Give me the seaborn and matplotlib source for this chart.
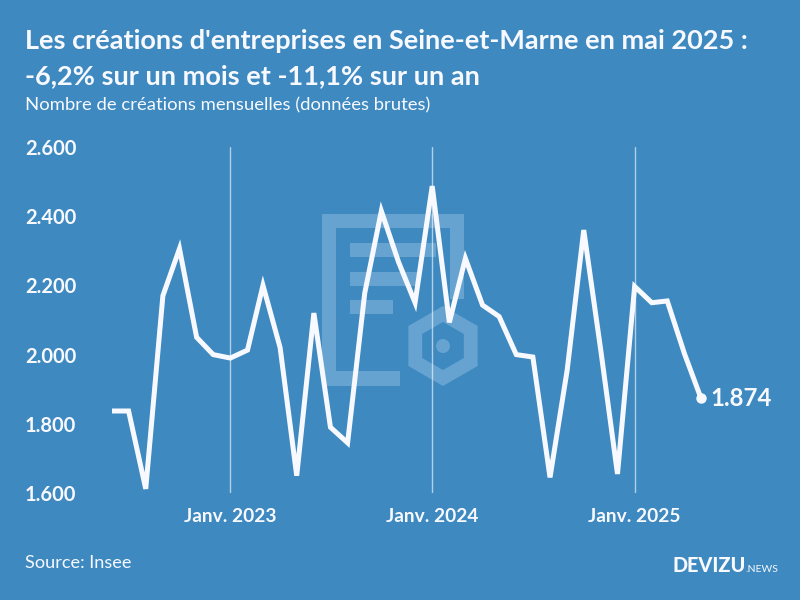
import matplotlib
matplotlib.use('Agg')
import matplotlib.pyplot as plt
import matplotlib.patches as mpatches
import pandas as pd
import seaborn as sns

# monthly values
months = pd.date_range('2022-06-01', '2025-05-01', freq='MS')
creations = [1837, 1837, 1612, 2170, 2306, 2050, 2000, 1990, 2013, 2200, 2020, 1650,
             2120, 1790, 1745, 2178, 2415, 2268, 2150, 2487, 2093, 2278, 2143, 2110,
             2000, 1993, 1645, 1955, 2360, 2010, 1655, 2197, 2150, 2155, 2003, 1874]
y_ticks = [1600, 1800, 2000, 2200, 2400, 2600]
y_labels = ['1.600', '1.800', '2.000', '2.200', '2.400', '2.600']
x_ticks = pd.to_datetime(['2023-01-01', '2024-01-01', '2025-01-01'])
x_labels = ['Janv. 2023', 'Janv. 2024', 'Janv. 2025']

BG = '#3d89c0'
WHITE = '#f8f9ff'
LOGO = '#66a3d0'

sns.set_theme(style='white', rc={'axes.facecolor': 'none', 'figure.facecolor': BG})
plt.rcParams['font.family'] = ['Lato', 'DejaVu Sans']

df = pd.DataFrame({'mois': months, 'creations': creations})

fig = plt.figure(figsize=(8, 6), dpi=100)

# background layer in pixel coordinates, for the watermark and the texts
bg = fig.add_axes([0, 0, 1, 1], zorder=0)
bg.set_xlim(0, 800)
bg.set_ylim(600, 0)
bg.axis('off')

# watermark: document
bg.add_patch(mpatches.Polygon([(322, 214), (464, 214), (464, 299), (450, 299), (450, 228), (336, 228),
                               (336, 371), (400, 371), (400, 386), (322, 386)], color=LOGO, lw=0))
bg.add_patch(mpatches.Rectangle((350, 243), 86, 14, color=LOGO, lw=0))
bg.add_patch(mpatches.Rectangle((350, 272), 68, 14, color=LOGO, lw=0))
bg.add_patch(mpatches.Rectangle((350, 300), 43, 14, color=LOGO, lw=0))
# watermark: hexagon
bg.add_patch(mpatches.RegularPolygon((443, 346), 6, radius=40, color=LOGO, lw=0))
bg.add_patch(mpatches.RegularPolygon((443, 346), 6, radius=24, color=BG, lw=0))
bg.add_patch(mpatches.Circle((443, 346), 7, color=LOGO, lw=0))

bg.text(25, 41, "Les créations d'entreprises en Seine-et-Marne en mai 2025 :", color=WHITE,
        fontsize=19.5, fontweight='bold', va='center', ha='left')
bg.text(25, 76, '-6,2% sur un mois et -11,1% sur un an', color=WHITE,
        fontsize=19.5, fontweight='bold', va='center', ha='left')
bg.text(25, 105, 'Nombre de créations mensuelles (données brutes)', color=WHITE,
        fontsize=13.3, va='center', ha='left')
bg.text(25, 563, 'Source: Insee', color=WHITE, fontsize=13.1, va='center', ha='left')
bg.text(673, 566, 'DEVIZU', color=WHITE, fontsize=14.3, fontweight='black', va='center', ha='left')
bg.text(745, 570, '.NEWS', color=WHITE, fontsize=7.5, va='center', ha='left')

# chart area: 112-701 px wide, 147-493 px high
ax = fig.add_axes([112 / 800, 1 - 493 / 600, (701 - 112) / 800, (493 - 147) / 600], zorder=1)
sns.lineplot(data=df, x='mois', y='creations', color=WHITE, linewidth=3.6, ax=ax, clip_on=False,
             solid_joinstyle='miter', solid_capstyle='butt', errorbar=None)
ax.set_xlim(months[0], months[-1])
ax.set_ylim(1600, 2600)

ax.set_yticks(y_ticks)
ax.set_yticklabels(y_labels, fontsize=14.5, fontweight='bold', color=WHITE, ha='left')
ax.set_xticks(x_ticks)
ax.set_xticklabels(x_labels, fontsize=13.8, fontweight='bold', color=WHITE)
ax.tick_params(axis='y', length=0, pad=62.6)
ax.tick_params(axis='x', length=0, pad=11)
ax.grid(axis='x', color='white', alpha=0.6, linewidth=1)
ax.grid(axis='y', visible=False)
ax.set_xlabel('')
ax.set_ylabel('')
sns.despine(ax=ax, left=True, bottom=True)

# last point and its label
ax.plot(months[-1], creations[-1], 'o', color=WHITE, ms=6.5, clip_on=False)
ax.annotate('1.874', (months[-1], creations[-1]), xytext=(7, 0), textcoords='offset points',
            color=WHITE, fontsize=17.3, fontweight='bold', va='center', annotation_clip=False)

fig.savefig('out.png', dpi=100, facecolor=BG)
